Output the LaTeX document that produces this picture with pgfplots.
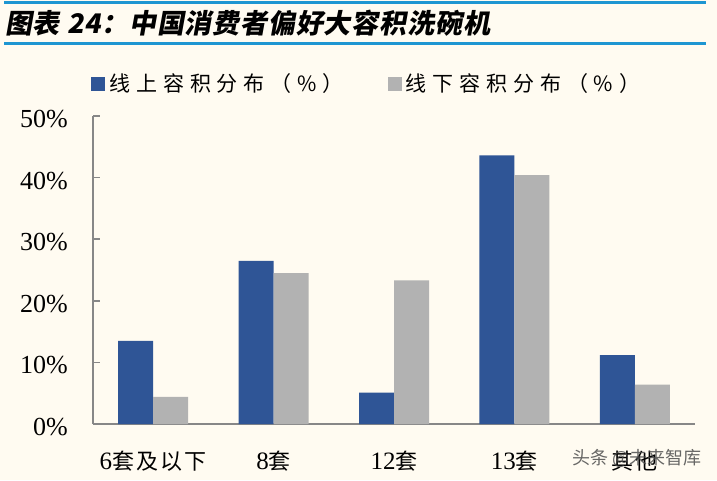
\documentclass[border=0pt]{standalone}
\usepackage{fontspec}
\usepackage{pgfplots}
\pgfplotsset{compat=1.18}
\setmainfont{Liberation Serif}
\newfontfamily\cjk{Noto Sans CJK SC}
\newfontfamily\cjkleg[LetterSpace=28]{Noto Sans CJK SC}
\newfontfamily\cjklab[LetterSpace=10]{Noto Sans CJK SC}
\newfontfamily\cjktitle[FakeSlant=0.18,LetterSpace=3]{Noto Sans CJK SC}
\definecolor{bgc}{HTML}{FFFBF1}
\definecolor{titleline}{HTML}{1E96D2}
\definecolor{onl}{HTML}{2F5596}
\definecolor{offl}{HTML}{B2B2B2}
\definecolor{axgray}{HTML}{878787}
\newcommand{\tao}[1]{{\fontsize{22}{22}\cjklab #1}}
\newcommand{\dg}[1]{{\rmfamily\fontsize{25}{25}\selectfont #1}}

\begin{document}
\begin{tikzpicture}
\fill[bgc] (0pt,0pt) rectangle (717pt,480pt);
\path[use as bounding box] (0pt,0pt) rectangle (717pt,480pt);
\draw[titleline, line width=3pt] (4pt,477pt) -- (706pt,477pt);
\draw[titleline, line width=3pt] (4pt,436pt) -- (706pt,436pt);
\node[anchor=west, inner sep=0pt] at (5pt,457pt)
  {\fontsize{27}{27}\cjktitle\bfseries 图表 24：中国消费者偏好大容积洗碗机};
\begin{axis}[
    at={(93pt,56pt)}, anchor=south west,
    width=602pt, height=308pt, scale only axis,
    ybar=0pt, bar width=35pt,
    xmin=-0.5, xmax=4.5,
    ymin=0, ymax=50,
    xtick={0,...,4},
    xticklabels={\dg{6}\tao{套及以下}, \dg{8}\tao{套}, \dg{12}\tao{套}, \dg{13}\tao{套}, \tao{其他}},
    minor xtick={0.5,1.5,2.5,3.5,4.5},
    ytick={0,10,...,50},
    yticklabel={\pgfmathprintnumber{\tick}\%},
    /pgf/number format/assume math mode=true,
    axis lines*=left,
    axis line style={axgray, line width=1.5pt},
    tick style={axgray, line width=1.5pt},
    tick align=inside,
    x axis line style={-},
    y axis line style={-},
    xtick style={draw=none},
    minor tick length=7pt,
    major tick length=7pt,
    yticklabel style={anchor=east, inner sep=0pt, xshift=-25pt, yshift=-3pt, font=\rmfamily\fontsize{26}{26}\selectfont},
    xticklabel style={anchor=base, inner sep=0pt, yshift=-45pt},
    legend style={at={(-0.003,1.1055)}, anchor=west, draw=none, fill=none,
        inner sep=0pt, font=\fontsize{21}{21}\cjkleg,
        nodes={inner xsep=4pt, inner ysep=0pt},
        /tikz/every even column/.style={column sep=40pt}},
    legend columns=2,
    legend cell align=left,
    legend image code/.code={\fill[#1] (0pt,-7pt) rectangle (14pt,7pt);},
]
\addplot[fill=onl, draw=none] coordinates {
    (0,13.5) (1,26.5) (2,5.1) (3,43.6) (4,11.2)
};
\addplot[fill=offl, draw=none] coordinates {
    (0,4.4) (1,24.5) (2,23.3) (3,40.4) (4,6.4)
};
\legend{线上容积分布（\%）, 线下容积分布（\%）}
\end{axis}
\node[anchor=west, inner sep=0pt, text=black!70, opacity=0.85] at (572pt,22pt)
  {\fontsize{18}{18}\cjk 头条 @未来智库};
\end{tikzpicture}
\end{document}
